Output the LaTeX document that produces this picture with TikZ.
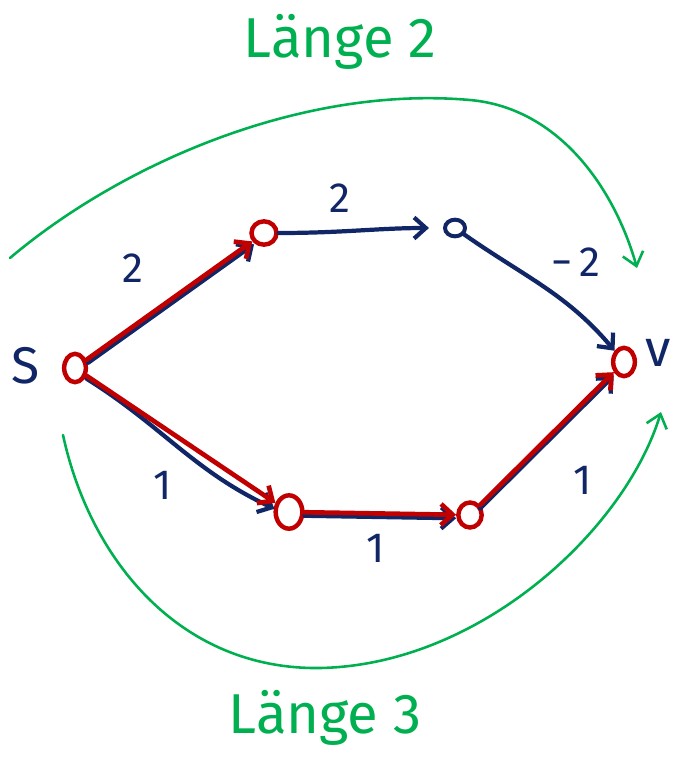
\documentclass[tikz,border=0pt]{standalone}
\usepackage{fontspec}
\setmainfont{Fira Sans}
\usetikzlibrary{arrows.meta,shapes.geometric}
\definecolor{navy}{RGB}{16,38,102}
\definecolor{penred}{RGB}{192,0,0}
\definecolor{pengreen}{RGB}{0,176,80}
\tikzset{
  vtx/.style={ellipse, draw=navy, line width=3.4pt, minimum width=0.6cm, minimum height=0.5cm, inner sep=0pt},
  redvtx/.style={ellipse, draw=penred, line width=3.8pt, minimum width=0.65cm, minimum height=0.85cm, inner sep=0pt},
  nedge/.style={draw=navy, line width=3.6pt, line cap=round,
    -{Straight Barb[length=10pt,width=18pt,line width=3.6pt]}},
  redge/.style={draw=penred, line width=4pt, line cap=round,
    -{Straight Barb[length=10pt,width=18pt,line width=4pt]}},
  wlabel/.style={text=navy, font=\fontsize{36}{42}\selectfont},
  vlabel/.style={text=navy, font=\fontsize{44}{50}\selectfont},
  glabel/.style={text=pengreen, font=\fontsize{48}{54}\selectfont},
  garc/.style={draw=pengreen, line width=2.2pt, line cap=round,
    -{Straight Barb[length=11pt,width=18pt,line width=2.2pt]}}
}
\begin{document}
\begin{tikzpicture}[x=0.03cm, y=-0.03cm]
\useasboundingbox (0,0) rectangle (675,759);
% vertices
\node[redvtx] (s) at (75,368) {};
\node[redvtx, minimum width=0.75cm, minimum height=0.7cm] (a) at (264,233) {};
\node[vtx] (b) at (455,228) {};
\node[redvtx] (v) at (624,362) {};
\node[redvtx, minimum width=0.8cm, minimum height=1.0cm] (c) at (289,512) {};
\node[redvtx, minimum width=0.7cm, minimum height=0.75cm] (d) at (470,515) {};
% vertex labels
\node[vlabel] (sl) at (26,366) {S};
\node[vlabel] (vl) at (658,353) {v};
% navy edges
\begin{scope}[transform canvas={shift={(1.5pt,-2.5pt)}}]
\draw[nedge] (s) -- (a);
\end{scope}
\draw[nedge, shorten >=12pt] (a) to[out=0, in=180] (b);
\draw[nedge] (b) to[out=-35, in=130] (v);
\begin{scope}[transform canvas={shift={(0pt,-3pt)}}]
\draw[nedge] (s) to[out=-32, in=155] (c);
\draw[nedge] (c) -- (d);
\draw[nedge] (d) -- (v);
\end{scope}
% red path
\draw[redge] (s) -- (a);
\draw[redge] (s) -- (c);
\draw[redge] (c) -- (d);
\draw[redge] (d) -- (v);
% weights
\node[wlabel] (w1) at (133,268) {2};
\node[wlabel] (w2) at (340,198) {2};
\node[wlabel] (w3) at (576,262) {−\,2};
\node[wlabel] (w4) at (163,485) {1};
\node[wlabel] (w5) at (376,548) {1};
\node[wlabel] (w6) at (583,480) {1};
% green annotations
\coordinate (t0) at (10,258);
\coordinate (t1) at (470,100);
\coordinate (t2) at (637,268);
\draw[garc] (t0) .. controls (120,165) and (300,85) .. (t1)
  .. controls (560,108) and (615,190) .. (t2);
\coordinate (b0) at (63,435);
\coordinate (b1) at (320,668);
\coordinate (b2) at (661,412);
\draw[garc] (b0) .. controls (90,560) and (180,670) .. (b1)
  .. controls (480,665) and (625,530) .. (b2);
\node[glabel] (g1) at (340,42) {Länge 2};
\node[glabel] (g2) at (325,718) {Länge 3};
\end{tikzpicture}
\end{document}
